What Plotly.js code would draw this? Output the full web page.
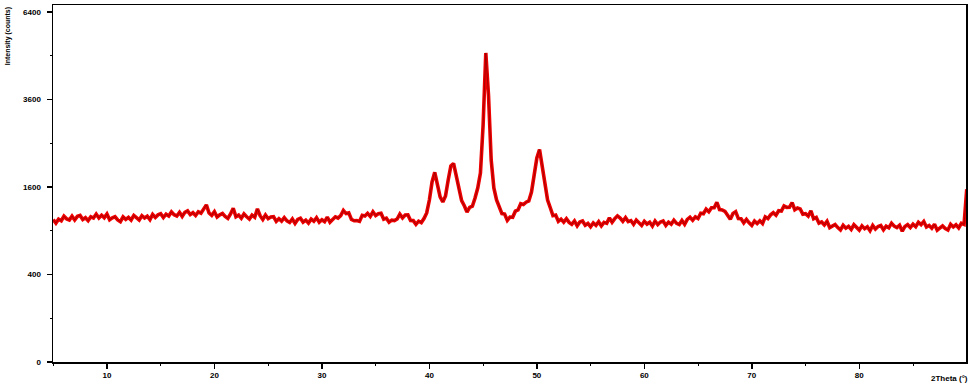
<!DOCTYPE html>
<html>
<head>
<meta charset="utf-8">
<script src="https://cdn.plot.ly/plotly-3.0.1.min.js"></script>
<style>
  html, body { margin: 0; padding: 0; background: #ffffff; }
  #chart { width: 975px; height: 386px; }
</style>
</head>
<body>
<div id="chart"></div>
<script>
// 2Theta scan: start angle and step (degrees)
const twoThetaStart = 5;
const twoThetaStep = 0.25;

// Intensity (counts), one row per degree: .00, .25, .50, .75
const counts = [
  1060, 1008, 1066, 1043,   // 5
  1110, 1070, 1053, 1112,   // 6
  1054, 1109, 1123, 1061,   // 7
  1088, 1044, 1102, 1083,   // 8
  1143, 1084, 1126, 1088,   // 9
  1143, 1057, 1085, 1102,   // 10
  1054, 1028, 1100, 1063,   // 11
  1093, 1053, 1122, 1082,   // 12
  1054, 1118, 1082, 1110,   // 13
  1058, 1137, 1092, 1131,   // 14
  1149, 1090, 1141, 1114,   // 15
  1177, 1134, 1114, 1170,   // 16
  1108, 1171, 1193, 1135,   // 17
  1165, 1121, 1179, 1158,   // 18
  1230, 1290, 1160, 1124,   // 19
  1181, 1099, 1131, 1151,   // 20
  1106, 1076, 1145, 1235,   // 21
  1103, 1127, 1079, 1145,   // 22
  1102, 1068, 1127, 1094,   // 23
  1225, 1118, 1061, 1129,   // 24
  1073, 1099, 1104, 1033,   // 25
  1073, 1036, 1088, 1041,   // 26
  1017, 1069, 1003, 1062,   // 27
  1080, 1022, 1052, 1008,   // 28
  1066, 1035, 1087, 1022,   // 29
  1058, 1030, 1097, 1022,   // 30
  1062, 1101, 1083, 1120,   // 31
  1199, 1151, 1161, 1063,   // 32
  1042, 1046, 1033, 1124,   // 33
  1113, 1155, 1107, 1179,   // 34
  1122, 1150, 1157, 1065,   // 35
  1081, 1022, 1051, 1044,   // 36
  1068, 1142, 1085, 1130,   // 37
  1131, 1045, 1044,  989,   // 38
  1036, 1016, 1076, 1160,   // 39
  1371, 1693, 1880, 1637,   // 40
  1423, 1337, 1440, 1731,   // 41
  2007, 2060, 1827, 1546,   // 42
  1360, 1275, 1176, 1248,   // 43
  1268, 1405, 1582, 1866,   // 44
  2935, 4990, 3724, 2132,   // 45
  1582, 1371, 1275, 1151,   // 46
  1144, 1048, 1098, 1094,   // 47
  1188, 1208, 1308, 1295,   // 48
  1334, 1354, 1510, 1788,   // 49
  2175, 2360, 2028, 1637,   // 50
  1371, 1243, 1119, 1128,   // 51
  1034, 1066, 1021, 1072,   // 52
  1018,  990, 1039,  969,   // 53
  1025, 1039,  977, 1003,   // 54
   956, 1010,  976, 1028,   // 55
   967, 1018, 1004, 1085,   // 56
  1021, 1074, 1116, 1083,   // 57
  1035, 1089, 1030, 1045,   // 58
   990, 1052, 1006,  974,   // 59
  1034,  994, 1020,  965,   // 60
  1039,  988, 1024, 1038,   // 61
   975, 1022,  992, 1051,   // 62
  1004,  987, 1046,  991,   // 63
  1062, 1095, 1051, 1100,   // 64
  1075, 1156, 1148, 1220,   // 65
  1179, 1243, 1244, 1333,   // 66
  1214, 1209, 1186, 1114,   // 67
  1065, 1151, 1180, 1074,   // 68
  1071, 1012, 1063, 1013,   // 69
   974, 1037, 1001, 1042,   // 70
  1002, 1101, 1076, 1131,   // 71
  1164, 1125, 1195, 1189,   // 72
  1272, 1249, 1250, 1328,   // 73
  1211, 1238, 1224, 1142,   // 74
  1149, 1111, 1195, 1071,   // 75
  1091, 1007, 1025,  982,   // 76
  1033,  944,  968,  988,   // 77
   944,  911,  976,  936,   // 78
   962,  918,  984,  941,   // 79
   909,  969,  929,  955,   // 80
   900,  974,  923,  959,   // 81
   973,  913,  964,  941,   // 82
  1007,  964,  944,  977,   // 83
   894,  960,  985,  945,   // 84
   993,  956, 1021,  986,   // 85
  1032,  952,  974,  935,   // 86
   990,  908,  940,  967,   // 87
   930,  911,  990,  953,   // 88
   983,  939, 1005,  990,   // 89
  1560                      // 90
];

// Axis ticks (square-root intensity scale)
const yTickLabels = [0, 400, 1600, 3600, 6400];
const yMinorTicks = [100, 900, 2500, 4900];
const xTickLabels = [10, 20, 30, 40, 50, 60, 70, 80];

const sqrtCounts = counts.map(Math.sqrt);
const font = { family: 'Liberation Sans, Arial, sans-serif', size: 8, color: '#000', weight: 'bold' };

const traces = [
  {
    type: 'scatter', mode: 'lines',
    x0: twoThetaStart, dx: twoThetaStep, y: sqrtCounts,
    line: { color: '#ee0000', width: 3.6 },
    hoverinfo: 'skip', showlegend: false
  },
  {
    type: 'scatter', mode: 'lines',
    x0: twoThetaStart, dx: twoThetaStep, y: sqrtCounts,
    line: { color: '#5a0000', width: 0.8 }, opacity: 0.6,
    hoverinfo: 'skip', showlegend: false
  }
];

const layout = {
  width: 975, height: 386,
  margin: { l: 53, r: 9, t: 5, b: 24, pad: 0 },
  paper_bgcolor: '#ffffff', plot_bgcolor: '#ffffff',
  font: font,
  showlegend: false,
  xaxis: {
    range: [4.98, 89.93],
    tickmode: 'array', tickvals: xTickLabels, ticktext: xTickLabels.map(String),
    ticks: 'outside', ticklen: 5, tickwidth: 1.5, tickcolor: '#000',
    minor: { tickmode: 'linear', tick0: 5, dtick: 10, ticks: 'outside', ticklen: 2, tickwidth: 1, tickcolor: '#000' },
    showline: true, linecolor: '#000', linewidth: 1.5, mirror: true,
    showgrid: false, zeroline: false,
    tickfont: font, ticklabelstandoff: 0
  },
  yaxis: {
    range: [0, 81.6],
    tickmode: 'array', tickvals: yTickLabels.map(Math.sqrt), ticktext: yTickLabels.map(String),
    ticks: 'outside', ticklen: 5, tickwidth: 1.5, tickcolor: '#000',
    minor: { tickmode: 'array', tickvals: yMinorTicks.map(Math.sqrt), ticks: 'outside', ticklen: 2, tickwidth: 1, tickcolor: '#000' },
    showline: true, linecolor: '#000', linewidth: 1.5, mirror: true,
    showgrid: false, zeroline: false,
    tickfont: font, ticklabelstandoff: 4
  },
  annotations: [
    {
      text: 'Intensity (counts)', textangle: -90,
      xref: 'paper', yref: 'paper', x: -0.049, y: 1.0,
      xanchor: 'center', yanchor: 'top', showarrow: false,
      font: { family: font.family, size: 7, color: '#000', weight: 'bold' }
    },
    {
      text: '2Theta (°)',
      xref: 'paper', yref: 'paper', x: 1.004, y: -0.045,
      xanchor: 'right', yanchor: 'middle', showarrow: false,
      font: { family: font.family, size: 8, color: '#000', weight: 'bold' }
    }
  ]
};

Plotly.newPlot('chart', traces, layout, { staticPlot: true, displayModeBar: false });
</script>
</body>
</html>
